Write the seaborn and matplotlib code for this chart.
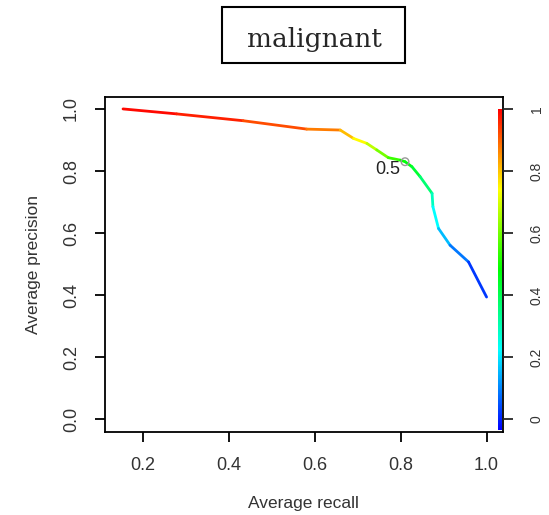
import numpy as np
import matplotlib
matplotlib.use('Agg')
import matplotlib.pyplot as plt
import seaborn as sns
from matplotlib.collections import LineCollection
from matplotlib.colors import ListedColormap, hsv_to_rgb
from matplotlib.patches import Rectangle

# ─── Data ─────────────────────────────────────────────────────────────────────
recall = [0.153, 0.278, 0.433, 0.581, 0.659, 0.690, 0.721, 0.744, 0.771, 0.799,
          0.810, 0.826, 0.845, 0.873, 0.875, 0.888, 0.915, 0.958, 1.000]
precision = [1.000, 0.984, 0.962, 0.935, 0.932, 0.905, 0.889, 0.868, 0.843, 0.835,
             0.830, 0.814, 0.782, 0.728, 0.685, 0.615, 0.561, 0.507, 0.394]
cutoff = [1.00, 0.98, 0.95, 0.90, 0.85, 0.78, 0.72, 0.65, 0.58, 0.53,
          0.50, 0.47, 0.43, 0.35, 0.28, 0.22, 0.15, 0.09, 0.02]
marked_cutoff = 0.5
y_ticks = [0.0, 0.2, 0.4, 0.6, 0.8, 1.0]
x_ticks = [0.2, 0.4, 0.6, 0.8, 1.0]
cbar_ticks = [0, 0.2, 0.4, 0.6, 0.8, 1]
cbar_labels = ['0', '0.2', '0.4', '0.6', '0.8', '1']

# ─── Style ────────────────────────────────────────────────────────────────────
sns.set_style("white")
plt.rcParams['font.family'] = ['Liberation Sans', 'DejaVu Sans']

# rainbow palette: blue (0) -> red (1), like R's rainbow()
levels = np.linspace(0, 1, 256)
hues = (1 - levels) * 2 / 3
cmap = ListedColormap(hsv_to_rgb(np.stack([hues, np.ones(256), np.ones(256)], axis=1)))

fig = plt.figure(figsize=(5.49, 5.15), dpi=100)
ax = fig.add_axes([0.191, 0.161, 0.725, 0.651])

# ─── Curve coloured by cutoff ─────────────────────────────────────────────────
pts = np.column_stack([recall, precision])
segs = np.stack([pts[:-1], pts[1:]], axis=1)
c = np.array(cutoff)
seg_vals = (c[:-1] + c[1:]) / 2
lc = LineCollection(segs, colors=cmap(seg_vals), linewidth=2.0,
                    capstyle='round', joinstyle='round', zorder=3)
ax.add_collection(lc)

# cutoff marker
i = cutoff.index(marked_cutoff)
sns.scatterplot(x=[recall[i]], y=[precision[i]], ax=ax, s=30, marker='o',
                facecolor='none', edgecolor='#999999', linewidth=1.0, zorder=4)
ax.annotate(f"{marked_cutoff}", (recall[i], precision[i]), xytext=(-3.5, -5.5),
            textcoords='offset points', ha='right', va='center',
            fontsize=13, color='#222222', zorder=5)

# colour bar drawn inside the plot region
bar_y = np.linspace(-0.035, 1.0, 257)
bar_x = np.array([1.0265, 1.037])
ax.pcolormesh(bar_x, bar_y, np.linspace(0, 1, 256).reshape(-1, 1),
              cmap=cmap, shading='flat', zorder=2)

ax.set_xlim(0.1107, 1.038)
ax.set_ylim(-0.041, 1.039)

# ─── Axes ─────────────────────────────────────────────────────────────────────
for sp in ax.spines.values():
    sp.set_linewidth(1.3)
    sp.set_color('black')

ax.set_xticks(x_ticks)
ax.set_xticklabels([f"{v:.1f}" for v in x_ticks])
ax.set_yticks(y_ticks)
ax.set_yticklabels([f"{v:.1f}" for v in y_ticks], rotation=90, va='center')
ax.tick_params(axis='both', direction='out', length=7.5, width=1.3,
               labelsize=13, pad=10.5, colors='black', labelcolor='#333333')
ax.tick_params(axis='both', bottom=True, left=True)
ax.set_xlabel("Average recall", fontsize=12.5, labelpad=16, color='#333333')
ax.set_ylabel("Average precision", fontsize=12.5, labelpad=16, color='#333333')

ax2 = ax.twinx()
ax2.set_ylim(ax.get_ylim())
ax2.set_yticks(cbar_ticks)
ax2.set_yticklabels(cbar_labels, rotation=90, va='center')
ax2.tick_params(axis='y', direction='out', length=7.5, width=1.3,
                labelsize=10, pad=12, right=True, labelcolor='#333333')
for sp in ax2.spines.values():
    sp.set_visible(False)

# ─── Title box ────────────────────────────────────────────────────────────────
fig.patches.append(Rectangle((221.7 / 549, 1 - 63.3 / 515), 183.3 / 549, 56.6 / 515,
                             transform=fig.transFigure, fill=False,
                             edgecolor='black', linewidth=1.5))
fig.text(314 / 549, 1 - 46.7 / 515, "malignant", ha='center', va='baseline',
         fontsize=19, family=['DejaVu Serif'])

fig.savefig("out.png", dpi=100)
